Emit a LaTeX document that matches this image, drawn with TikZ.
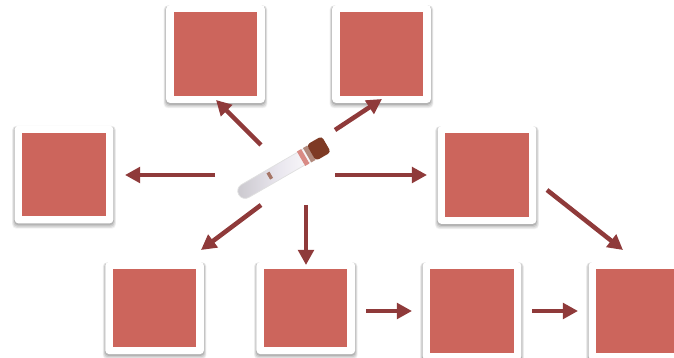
\documentclass[tikz,border=0pt]{standalone}
\usetikzlibrary{arrows.meta,shadows}
\definecolor{tile}{HTML}{CC655C}
\definecolor{flowred}{HTML}{8F3A3A}
\definecolor{capbrown}{HTML}{7E3A24}
\definecolor{glass}{HTML}{E9E6EE}
\tikzset{
  >={Triangle[length=4mm,width=4.1mm]},
  card/.style={fill=white,rounded corners=1mm,minimum width=26.1mm,minimum height=25.9mm,inner sep=0pt,
    general shadow={shadow scale=1.05,shadow yshift=-.7mm,opacity=.05,fill=black},
    general shadow={shadow scale=1.04,shadow yshift=-.6mm,opacity=.07,fill=black},
    general shadow={shadow scale=1.025,shadow yshift=-.5mm,opacity=.09,fill=black},
    general shadow={shadow scale=1.01,shadow yshift=-.35mm,opacity=.12,fill=black}},
  tilebox/.style={fill=tile,minimum width=22mm,minimum height=22mm,inner sep=0pt},
  flow/.style={->,line width=1.2mm,draw=flowred},
  tubepart/.style={transform shape,inner sep=0pt},
}
\begin{document}
\begin{tikzpicture}[x=.2646mm,y=-.2646mm]
\useasboundingbox (0,0) rectangle (674,358);

% --- tiles
\foreach \name/\px/\py in {topa/215.5/54,topb/381.5/54,left/64/174.5,right/487/175,botc/472/311,botd/638/311}{
  \node[card] (\name) at (\px,\py) {};
  \node[tilebox] (\name in) at (\name) {};
}
% --- these two are a bit shorter
\foreach \name/\px in {bota/154.6,botb/305.8}{
  \node[card,minimum height=24.4mm] (\name) at (\px,308) {};
  \node[tilebox,minimum height=20.6mm] (\name in) at (\name) {};
}

% --- test tube
\begin{scope}[shift={(285,168)},rotate=30]
  \node[tubepart,minimum width=24mm,minimum height=3.9mm,rounded corners=1.9mm,draw=black!12,line width=.2mm,
    left color=glass!70!gray,right color=white,middle color=glass] (tube) at (-8,0) {};
  \node[tubepart,minimum width=.9mm,minimum height=1.9mm,fill=capbrown!70] (mark) at (-17,-1) {};
  \node[tubepart,minimum width=1.3mm,minimum height=4.4mm,fill=tile!75] (band) at (21,0) {};
  \node[tubepart,minimum width=1.3mm,minimum height=4.4mm,fill=capbrown!60] (bandb) at (28,0) {};
  \node[tubepart,minimum width=4.6mm,minimum height=4.9mm,rounded corners=.9mm,fill=capbrown] (cap) at (39,0) {};
\end{scope}

% --- arrow ends
\coordinate (s1) at (261,145); \coordinate (e1) at (216,100);
\coordinate (s2) at (335,130); \coordinate (e2) at (382,99);
\coordinate (s3) at (215,175); \coordinate (e3) at (125,175);
\coordinate (s4) at (335,175); \coordinate (e4) at (427,175);
\coordinate (s5) at (261,205); \coordinate (e5) at (201,250);
\coordinate (s6) at (306,205); \coordinate (e6) at (306,265);
\coordinate (s7) at (547,190); \coordinate (e7) at (623,250);
\coordinate (s8) at (366,311); \coordinate (e8) at (412,311);
\coordinate (s9) at (532,311); \coordinate (e9) at (578,311);
\foreach \i in {1,...,9}{
  \draw[flow] (s\i) -- (e\i);
}

\end{tikzpicture}
\end{document}
